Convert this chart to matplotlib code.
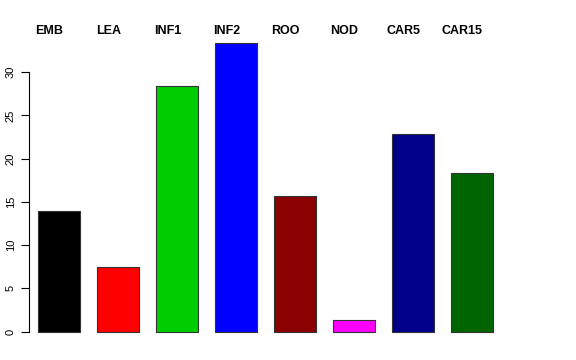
import matplotlib
matplotlib.use('Agg')
import matplotlib.pyplot as plt
import numpy as np

categorias = ['EMB', 'LEA', 'INF1', 'INF2', 'ROO', 'NOD', 'CAR5', 'CAR15']
valores = [13.9, 7.45, 28.4, 33.35, 15.7, 1.3, 22.8, 18.3]
cores = ['#000000', '#FF0000', '#00CD00', '#0000FF', '#8B0000', '#FF00FF', '#00008B', '#006400']
yticks = [0, 5, 10, 15, 20, 25, 30]

plt.rcParams['font.family'] = ['Liberation Sans', 'DejaVu Sans']

fig = plt.figure(figsize=(5.76, 3.6), dpi=100)
ax = fig.add_axes([0.0503, 0.0469, 0.821, 0.869])

x = np.arange(len(categorias))
ax.bar(x, valores, width=0.7, color=cores, edgecolor='#333333', linewidth=0.8)

# rótulos no topo
for xi, nome in zip(x, categorias):
    ax.text(xi - 0.16, 34.8, nome, ha='center', va='center', fontsize=9,
            fontweight='bold', clip_on=False)

ax.set_xlim(-0.508, len(categorias) - 1 + 0.508)
ax.set_ylim(-1.34, 34.84)
ax.set_xticks([])
ax.set_yticks(yticks)
ax.set_yticklabels([str(t) for t in yticks], rotation=90, va='center', fontsize=8)
ax.tick_params(axis='y', length=6, width=0.8, pad=3.5)
for lado in ['top', 'right', 'bottom']:
    ax.spines[lado].set_visible(False)
ax.spines['left'].set_bounds(0, 30)
ax.spines['left'].set_linewidth(0.8)

fig.savefig('out.png', dpi=100)
